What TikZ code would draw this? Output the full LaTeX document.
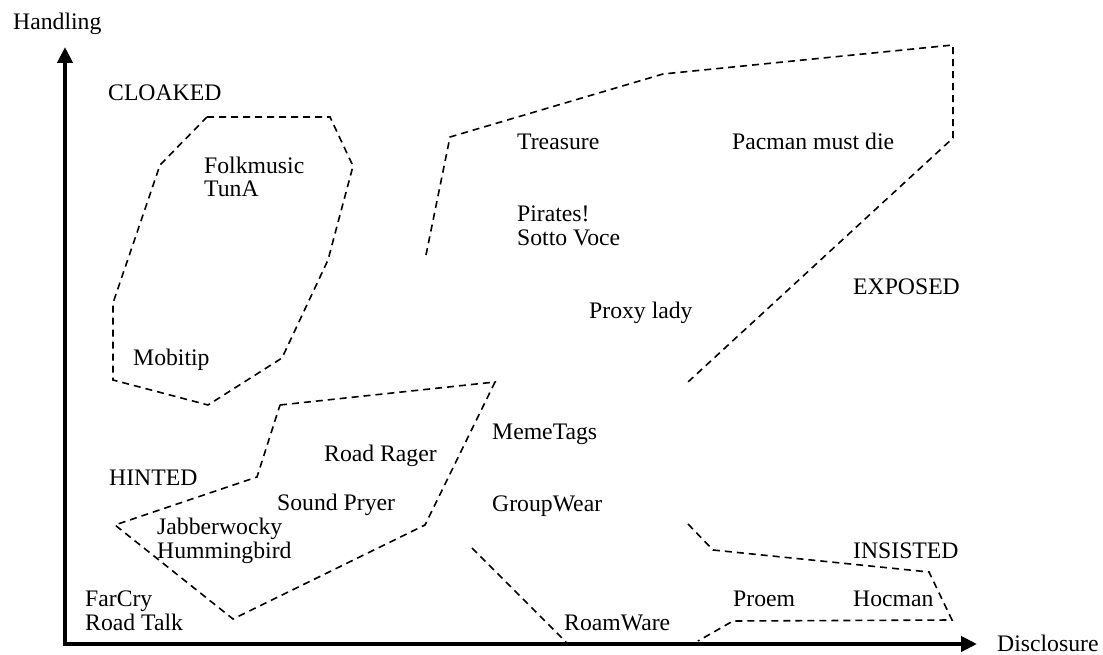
\documentclass[tikz,border=0pt]{standalone}
\usepackage{fontspec}
\setmainfont{Liberation Serif}
\usetikzlibrary{arrows.meta}
\begin{document}
\begin{tikzpicture}[x=1pt,y=-1pt,
  lbl/.style={anchor=base west,inner sep=0pt,align=left,font=\fontsize{23.7}{24}\selectfont},
  region/.style={dash pattern=on 7pt off 5pt,line width=1.6pt,line join=miter},
  axis/.style={line width=4.5pt,line join=miter,{Triangle[length=16pt,width=15pt]}-{Triangle[length=16pt,width=15pt]}}]
\fill[white] (0,0) rectangle (1103,655);
\useasboundingbox (0,0) rectangle (1103,655);

% axes
\coordinate (ytip) at (65,47);
\coordinate (orig) at (65,644);
\coordinate (xtip) at (977,644);
\draw[axis] (ytip) -- (orig) -- (xtip);

% labels (multi-line labels are anchored at their last baseline)
\node[lbl] (handling) at (13,30) {Handling};
\node[lbl] (disclosure) at (997,651) {Disclosure};
\node[lbl] (cloaked) at (108,101) {CLOAKED};
\node[lbl] (folk) at (204,197) {Folkmusic\\TunA};
\node[lbl] (mobitip) at (133,365) {Mobitip};
\node[lbl] (treasure) at (517,150) {Treasure};
\node[lbl] (pacman) at (732,150) {Pacman must die};
\node[lbl] (pirates) at (517,245) {Pirates!\\Sotto Voce};
\node[lbl] (proxy) at (589,318) {Proxy lady};
\node[lbl] (exposed) at (853,294) {EXPOSED};
\node[lbl] (memetags) at (492,439) {MemeTags};
\node[lbl] (roadrager) at (324,461) {Road Rager};
\node[lbl] (hinted) at (109,485) {HINTED};
\node[lbl] (soundpryer) at (277,510) {Sound Pryer};
\node[lbl] (groupwear) at (492,511) {GroupWear};
\node[lbl] (jabber) at (157,558) {Jabberwocky\\Hummingbird};
\node[lbl] (insisted) at (853,558) {INSISTED};
\node[lbl] (farcry) at (85,630) {FarCry\\Road Talk};
\node[lbl] (proem) at (733,606) {Proem};
\node[lbl] (hocman) at (853,606) {Hocman};
\node[lbl] (roamware) at (564,630) {RoamWare};

% regions
\draw[region] (207,117) -- (330,117) -- (353,166) -- (328,260) -- (282,358)
  -- (208,405) -- (113,380) -- (113,303) -- (160,165) -- cycle;
\draw[region] (280,405) -- (495,382) -- (425,525) -- (233,619) -- (115,525)
  -- (257,477) -- cycle;
\draw[region] (426,255) -- (450,137) -- (663,74) -- (953,45) -- (953,138) -- (688,382);
\draw[region] (688,524) -- (713,550) -- (929,572) -- (952,620) -- (733,621) -- (698,641);
\draw[region] (472,548) -- (566,642);
\end{tikzpicture}
\end{document}
